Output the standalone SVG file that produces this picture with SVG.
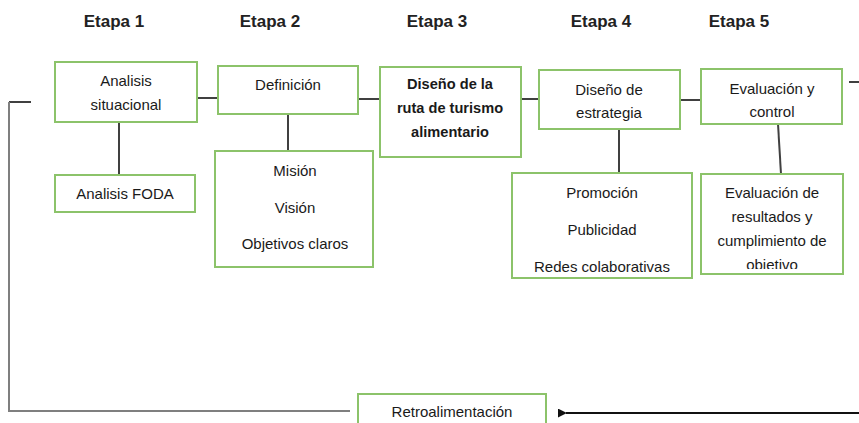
<svg xmlns="http://www.w3.org/2000/svg" width="859" height="423" viewBox="0 0 859 423">
<style>
.box{fill:#fff;stroke:#8cc36a;stroke-width:2}
.t{font-family:"Liberation Sans",Arial,sans-serif;font-size:15px;fill:#1a1a1a;text-anchor:middle}
.b{font-weight:bold;font-size:14.6px}
.h{font-family:"Liberation Sans",Arial,sans-serif;font-size:17px;font-weight:bold;fill:#222;text-anchor:middle}
.c{stroke:#404040;stroke-width:2;fill:none}
.g{stroke:#7f7f7f;stroke-width:2;fill:none}
</style>
<defs>
<marker id="ah" viewBox="0 0 10 10" refX="1" refY="5" markerWidth="4.5" markerHeight="4.5" orient="auto-start-reverse" markerUnits="strokeWidth">
<path d="M0,5 L10,0 L10,10 Z" fill="#111"/>
</marker>
<clipPath id="clip5"><rect x="702" y="175" width="140" height="94"/></clipPath>
</defs>
<rect width="859" height="423" fill="#fff"/>
<g id="titles">
<text class="h" x="114" y="27">Etapa 1</text>
<text class="h" x="270" y="27">Etapa 2</text>
<text class="h" x="437" y="27">Etapa 3</text>
<text class="h" x="601" y="27">Etapa 4</text>
<text class="h" x="739" y="27">Etapa 5</text>
</g>
<g id="connectors">
<line class="c" x1="197" y1="98" x2="218" y2="98"/>
<line class="c" x1="358" y1="99" x2="380" y2="99"/>
<line class="c" x1="521" y1="99" x2="539" y2="99"/>
<line class="c" x1="680" y1="100" x2="701" y2="100"/>
<line class="c" x1="119" y1="122" x2="119" y2="175"/>
<line class="c" x1="288" y1="114" x2="288" y2="151"/>
<line class="c" x1="619" y1="129" x2="619" y2="173"/>
<line class="c" x1="778" y1="124" x2="781" y2="174"/>
<line class="c" x1="849" y1="82" x2="859" y2="82"/>
<line class="c" x1="9" y1="102" x2="31" y2="102"/>
<polyline class="g" points="9,102 9,411 350,411"/>
<line x1="859" y1="413" x2="566" y2="413" stroke="#111" stroke-width="2" marker-end="url(#ah)"/>
</g>
<g id="n1">
<rect class="box" x="55" y="62" width="142" height="60"/>
<text class="t" x="126" y="86">Analisis</text>
<text class="t" x="126" y="110">situacional</text>
</g>
<g id="n1a">
<rect class="box" x="55" y="175" width="140" height="37"/>
<text class="t" x="125" y="199">Analisis FODA</text>
</g>
<g id="n2">
<rect class="box" x="218" y="66" width="140" height="48"/>
<text class="t" x="288" y="90">Definición</text>
</g>
<g id="n2a">
<rect class="box" x="215" y="151" width="158" height="116"/>
<text class="t" x="295" y="176">Misión</text>
<text class="t" x="295" y="213">Visión</text>
<text class="t" x="295" y="249">Objetivos claros</text>
</g>
<g id="n3">
<rect class="box" x="380" y="67" width="141" height="90"/>
<text class="t b" x="450" y="89">Diseño de la</text>
<text class="t b" x="450" y="113">ruta de turismo</text>
<text class="t b" x="450" y="137">alimentario</text>
</g>
<g id="n4">
<rect class="box" x="539" y="70" width="141" height="59"/>
<text class="t" x="609" y="95">Diseño de</text>
<text class="t" x="609" y="118">estrategia</text>
</g>
<g id="n4a">
<rect class="box" x="512" y="173" width="180" height="105"/>
<text class="t" x="602" y="198">Promoción</text>
<text class="t" x="602" y="235">Publicidad</text>
<text class="t" x="602" y="272">Redes colaborativas</text>
</g>
<g id="n5">
<rect class="box" x="701" y="69" width="141" height="55"/>
<text class="t" x="772" y="94">Evaluación y</text>
<text class="t" x="772" y="117">control</text>
</g>
<g id="n5a">
<rect class="box" x="701" y="174" width="142" height="100"/>
<g clip-path="url(#clip5)">
<text class="t" x="772" y="198">Evaluación de</text>
<text class="t" x="772" y="222">resultados y</text>
<text class="t" x="772" y="246">cumplimiento de</text>
<text class="t" x="772" y="270">objetivo</text>
</g>
</g>
<g id="retro">
<rect class="box" x="358" y="394" width="188" height="40"/>
<text class="t" x="452" y="417">Retroalimentación</text>
</g>
</svg>
